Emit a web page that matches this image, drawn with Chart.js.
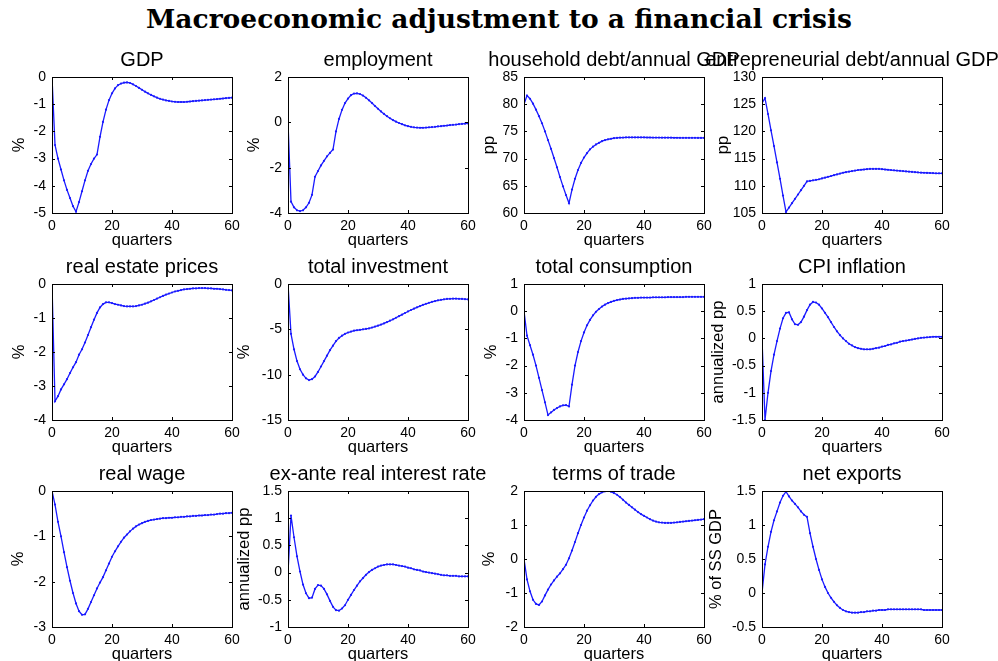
<!DOCTYPE html>
<html>
<head>
<meta charset="utf-8">
<script src="https://cdn.jsdelivr.net/npm/chart.js@4.4.1/dist/chart.umd.min.js"></script>
<style>
  body { margin: 0; background: #fff; width: 998px; height: 661px; position: relative; overflow: hidden; }
  #title { position: absolute; left: 0; top: 3px; width: 998px; text-align: center;
           font: bold 26.5px "DejaVu Serif", serif; color: #000; }
  canvas { position: absolute; }
</style>
</head>
<body>
<div id="title">Macroeconomic adjustment to a financial crisis</div>
<div id="panels"></div>
<script>
// quarters after the shock
const quarters = [0,1,2,3,4,5,6,7,8,9,10,11,12,13,14,15,16,17,18,19,20,21,22,23,24,25,26,27,28,29,30,
  31,32,33,34,35,36,37,38,39,40,41,42,43,44,45,46,47,48,49,50,51,52,53,54,55,56,57,58,59,60];

const gdp = [0,-2.5,-3.0,-3.4,-3.8,-4.15,-4.45,-4.75,-4.95,-4.6,-4.2,-3.8,-3.45,-3.2,-3.0,-2.85,
  -2.2,-1.65,-1.2,-0.85,-0.6,-0.42,-0.3,-0.24,-0.21,-0.2,-0.22,-0.27,-0.33,-0.4,-0.47,-0.54,-0.6,-0.66,
  -0.71,-0.76,-0.8,-0.83,-0.86,-0.88,-0.9,-0.91,-0.92,-0.92,-0.92,-0.91,-0.9,-0.89,-0.88,-0.87,-0.86,
  -0.85,-0.84,-0.83,-0.82,-0.81,-0.8,-0.79,-0.78,-0.77,-0.76];

const employment = [0,-3.5,-3.75,-3.88,-3.92,-3.88,-3.75,-3.55,-3.2,-2.4,-2.15,-1.9,-1.7,-1.5,-1.35,-1.2,
  -0.4,0.15,0.55,0.85,1.05,1.2,1.27,1.28,1.25,1.18,1.08,0.97,0.85,0.72,0.6,0.48,0.37,0.27,0.18,0.1,0.03,
  -0.03,-0.08,-0.13,-0.17,-0.2,-0.22,-0.23,-0.24,-0.24,-0.23,-0.22,-0.21,-0.2,-0.18,-0.17,-0.15,-0.14,
  -0.12,-0.11,-0.1,-0.08,-0.07,-0.06,-0.05];

const householdDebt = [80,81.6,81,80.1,79,77.8,76.5,75,73.4,71.8,70.1,68.4,66.6,64.9,63.3,61.8,
  64.3,66.3,67.9,69.2,70.2,71.0,71.7,72.2,72.6,72.9,73.2,73.4,73.55,73.65,73.75,73.8,73.85,73.87,73.89,
  73.9,73.9,73.9,73.9,73.9,73.89,73.88,73.88,73.87,73.86,73.86,73.85,73.85,73.84,73.84,73.83,73.83,
  73.82,73.82,73.82,73.81,73.81,73.81,73.8,73.8,73.8];

const entrepDebt = [125.2,126.1,123.2,120.2,117.3,114.3,111.3,108.2,105.2,106.0,106.8,107.6,108.4,109.2,
  110.0,110.8,110.9,111.0,111.1,111.2,111.35,111.5,111.65,111.8,111.95,112.1,112.25,112.4,112.5,112.6,
  112.7,112.8,112.9,112.95,113.0,113.05,113.1,113.1,113.1,113.1,113.05,113.0,112.95,112.9,112.85,112.8,
  112.75,112.7,112.65,112.6,112.55,112.5,112.45,112.42,112.4,112.37,112.35,112.33,112.3,112.3,112.3];

const realEstate = [0,-3.45,-3.3,-3.1,-2.95,-2.8,-2.62,-2.45,-2.3,-2.08,-1.92,-1.72,-1.5,-1.27,-1.05,-0.85,
  -0.69,-0.59,-0.54,-0.54,-0.56,-0.59,-0.61,-0.63,-0.65,-0.66,-0.66,-0.66,-0.65,-0.63,-0.61,-0.58,-0.55,
  -0.51,-0.47,-0.43,-0.39,-0.35,-0.31,-0.28,-0.25,-0.22,-0.2,-0.18,-0.16,-0.15,-0.14,-0.13,-0.13,-0.12,
  -0.12,-0.12,-0.13,-0.13,-0.14,-0.14,-0.15,-0.16,-0.17,-0.18,-0.19];

const investment = [0,-5.5,-7.2,-8.5,-9.4,-10.0,-10.4,-10.6,-10.5,-10.2,-9.7,-9.1,-8.5,-7.9,-7.3,-6.8,
  -6.3,-5.95,-5.7,-5.5,-5.35,-5.25,-5.15,-5.1,-5.05,-5.0,-4.95,-4.9,-4.8,-4.7,-4.6,-4.48,-4.35,-4.2,
  -4.05,-3.9,-3.72,-3.55,-3.38,-3.2,-3.03,-2.87,-2.72,-2.57,-2.43,-2.3,-2.18,-2.07,-1.97,-1.88,-1.8,
  -1.74,-1.69,-1.65,-1.63,-1.62,-1.62,-1.63,-1.65,-1.67,-1.7];

const consumption = [0,-0.9,-1.25,-1.6,-2.0,-2.45,-2.9,-3.35,-3.82,-3.72,-3.63,-3.56,-3.5,-3.46,-3.45,-3.5,
  -2.7,-2.0,-1.5,-1.1,-0.78,-0.52,-0.32,-0.15,-0.02,0.08,0.17,0.24,0.3,0.34,0.38,0.41,0.43,0.45,0.46,
  0.47,0.48,0.49,0.49,0.5,0.5,0.5,0.5,0.51,0.51,0.51,0.51,0.51,0.52,0.52,0.52,0.52,0.52,0.52,0.53,0.53,
  0.53,0.53,0.53,0.53,0.53];

const cpiInflation = [0,-1.5,-1.0,-0.6,-0.3,-0.05,0.18,0.37,0.47,0.48,0.35,0.26,0.25,0.3,0.4,0.52,0.62,
  0.67,0.66,0.62,0.55,0.47,0.39,0.3,0.21,0.13,0.06,0.0,-0.05,-0.1,-0.13,-0.16,-0.18,-0.19,-0.2,-0.2,-0.2,
  -0.19,-0.18,-0.17,-0.15,-0.14,-0.12,-0.11,-0.09,-0.08,-0.06,-0.05,-0.04,-0.03,-0.02,-0.01,0.0,0.01,
  0.015,0.02,0.025,0.03,0.03,0.03,0.03];

const realWage = [0,-0.3,-0.68,-1.0,-1.35,-1.68,-1.98,-2.25,-2.48,-2.65,-2.73,-2.72,-2.6,-2.45,-2.3,-2.15,
  -2.02,-1.9,-1.75,-1.6,-1.45,-1.33,-1.22,-1.12,-1.03,-0.96,-0.89,-0.83,-0.78,-0.74,-0.71,-0.68,-0.66,
  -0.64,-0.63,-0.62,-0.61,-0.6,-0.6,-0.59,-0.59,-0.58,-0.58,-0.57,-0.57,-0.56,-0.56,-0.55,-0.55,-0.54,
  -0.54,-0.53,-0.53,-0.52,-0.52,-0.51,-0.5,-0.5,-0.49,-0.49,-0.48];

const realRate = [0,1.05,0.65,0.3,0.02,-0.22,-0.38,-0.47,-0.46,-0.3,-0.23,-0.24,-0.3,-0.4,-0.52,-0.63,
  -0.69,-0.7,-0.66,-0.6,-0.5,-0.41,-0.32,-0.24,-0.16,-0.1,-0.04,0.01,0.05,0.08,0.11,0.13,0.14,0.15,0.15,
  0.15,0.14,0.13,0.12,0.11,0.09,0.08,0.06,0.05,0.04,0.02,0.01,0.0,-0.01,-0.02,-0.03,-0.04,-0.05,-0.05,
  -0.06,-0.06,-0.06,-0.07,-0.07,-0.07,-0.07];

const termsOfTrade = [0,-0.6,-0.95,-1.2,-1.32,-1.35,-1.25,-1.07,-0.9,-0.75,-0.63,-0.52,-0.42,-0.3,-0.17,
  0.02,0.25,0.5,0.76,1.0,1.22,1.42,1.58,1.72,1.83,1.91,1.96,1.99,2.0,1.98,1.94,1.89,1.82,1.74,1.66,1.59,
  1.52,1.45,1.38,1.32,1.27,1.22,1.17,1.13,1.1,1.08,1.07,1.06,1.06,1.06,1.07,1.08,1.09,1.1,1.11,1.12,
  1.13,1.14,1.15,1.16,1.17];

const netExports = [0,0.42,0.68,0.9,1.07,1.2,1.33,1.43,1.49,1.42,1.36,1.31,1.26,1.2,1.15,1.12,0.88,0.68,
  0.5,0.34,0.2,0.09,0.0,-0.07,-0.13,-0.18,-0.22,-0.25,-0.27,-0.28,-0.29,-0.29,-0.29,-0.28,-0.28,-0.27,
  -0.27,-0.26,-0.26,-0.25,-0.25,-0.25,-0.24,-0.24,-0.24,-0.24,-0.24,-0.24,-0.24,-0.24,-0.24,-0.24,-0.24,
  -0.24,-0.25,-0.25,-0.25,-0.25,-0.25,-0.25,-0.25];

// panel titles, y labels and y ranges [min, max, step]
const panelTitles = ['GDP', 'employment', 'household debt/annual GDP', 'entrepreneurial debt/annual GDP',
  'real estate prices', 'total investment', 'total consumption', 'CPI inflation',
  'real wage', 'ex-ante real interest rate', 'terms of trade', 'net exports'];
const yLabels = ['%', '%', 'pp', 'pp', '%', '%', '%', 'annualized pp',
  '%', 'annualized pp', '%', '% of SS GDP'];
const yRanges = [[-5, 0, 1], [-4, 2, 2], [60, 85, 5], [105, 130, 5],
  [-4, 0, 1], [-15, 0, 5], [-4, 1, 1], [-1.5, 1, 0.5],
  [-3, 0, 1], [-1, 1.5, 0.5], [-2, 2, 1], [-0.5, 1.5, 0.5]];
const series = [gdp, employment, householdDebt, entrepDebt, realEstate, investment, consumption,
  cpiInflation, realWage, realRate, termsOfTrade, netExports];

// layout
const colLefts = [52, 288, 524, 762];
const rowTops = [77, 284, 491];
const plotW = 180, plotH = 136;
const side = 80;        // room left and right of each plot (titles overhang)
const titleH = 32;
const labelGap = [32, 33, 34, 38, 32, 43, 32, 43, 33, 43, 34, 45]; // y label centre -> plot left
const sans = '"Liberation Sans", Arial, sans-serif';

// box with inward tick marks (matlab "box on") + panel title centred on the plot
const boxPlugin = {
  id: 'box',
  afterDatasetsDraw(chart, args, opts) {
    const { ctx, chartArea: a, scales: { x, y } } = chart;
    ctx.save();
    ctx.strokeStyle = '#000';
    ctx.lineWidth = 1;
    ctx.strokeRect(Math.round(a.left) + 0.5, Math.round(a.top) + 0.5, Math.round(a.width), Math.round(a.height));
    ctx.beginPath();
    x.ticks.forEach(t => {
      const px = Math.round(x.getPixelForValue(t.value)) + 0.5;
      ctx.moveTo(px, a.bottom); ctx.lineTo(px, a.bottom - 3);
      ctx.moveTo(px, a.top); ctx.lineTo(px, a.top + 3);
    });
    y.ticks.forEach(t => {
      const py = Math.round(y.getPixelForValue(t.value)) + 0.5;
      ctx.moveTo(a.left, py); ctx.lineTo(a.left + 3, py);
      ctx.moveTo(a.right, py); ctx.lineTo(a.right - 3, py);
    });
    ctx.stroke();

    ctx.fillStyle = '#000';
    ctx.font = '20px ' + sans;
    ctx.textAlign = 'center';
    ctx.textBaseline = 'middle';
    ctx.fillText(opts.text, (a.left + a.right) / 2, a.top - 17);
    ctx.restore();
  }
};

const panels = document.getElementById('panels');
const tickLabel = v => String(+v.toFixed(2));

series.forEach((values, i) => {
  const col = i % 4, row = Math.floor(i / 4);
  const yw = labelGap[i] + 14;   // y scale width so the label lands where it should
  const canvas = document.createElement('canvas');
  canvas.width = plotW + 2 * side;
  canvas.height = titleH + plotH + 41;
  canvas.style.left = (colLefts[col] - side) + 'px';
  canvas.style.top = (rowTops[row] - titleH) + 'px';
  panels.appendChild(canvas);

  new Chart(canvas, {
    type: 'line',
    data: {
      labels: quarters,
      datasets: [{
        data: values,
        borderColor: '#1a1aff',
        backgroundColor: '#1a1aff',
        borderWidth: 1.3,
        pointRadius: 1.1,
        pointBorderWidth: 0,
        tension: 0
      }]
    },
    options: {
      responsive: false,
      animation: false,
      events: [],
      layout: { padding: { left: side - yw, right: side, top: titleH, bottom: 0 } },
      plugins: {
        legend: { display: false },
        tooltip: { enabled: false },
        title: { display: false },
        box: { text: panelTitles[i] }
      },
      scales: {
        x: {
          type: 'linear',
          min: 0, max: 60,
          afterFit: s => { s.height = 41; },
          grid: { display: false, drawTicks: false },
          border: { display: false },
          ticks: { stepSize: 20, padding: 5, color: '#000', maxRotation: 0, callback: tickLabel,
                   font: { family: sans, size: 14 } },
          title: { display: true, text: 'quarters', color: '#000', padding: { top: 0, bottom: 4 },
                   font: { family: sans, size: 16.5, lineHeight: 1.2 } }
        },
        y: {
          min: yRanges[i][0], max: yRanges[i][1],
          afterFit: s => { s.width = yw; },
          grid: { display: false, drawTicks: false },
          border: { display: false },
          ticks: { stepSize: yRanges[i][2], padding: 6, color: '#000', callback: tickLabel,
                   font: { family: sans, size: 14 } },
          title: { display: true, text: yLabels[i], color: '#000', padding: { top: 4, bottom: 0 },
                   font: { family: sans, size: 16.5, lineHeight: 1.2 } }
        }
      }
    },
    plugins: [boxPlugin]
  });
});
</script>
</body>
</html>
